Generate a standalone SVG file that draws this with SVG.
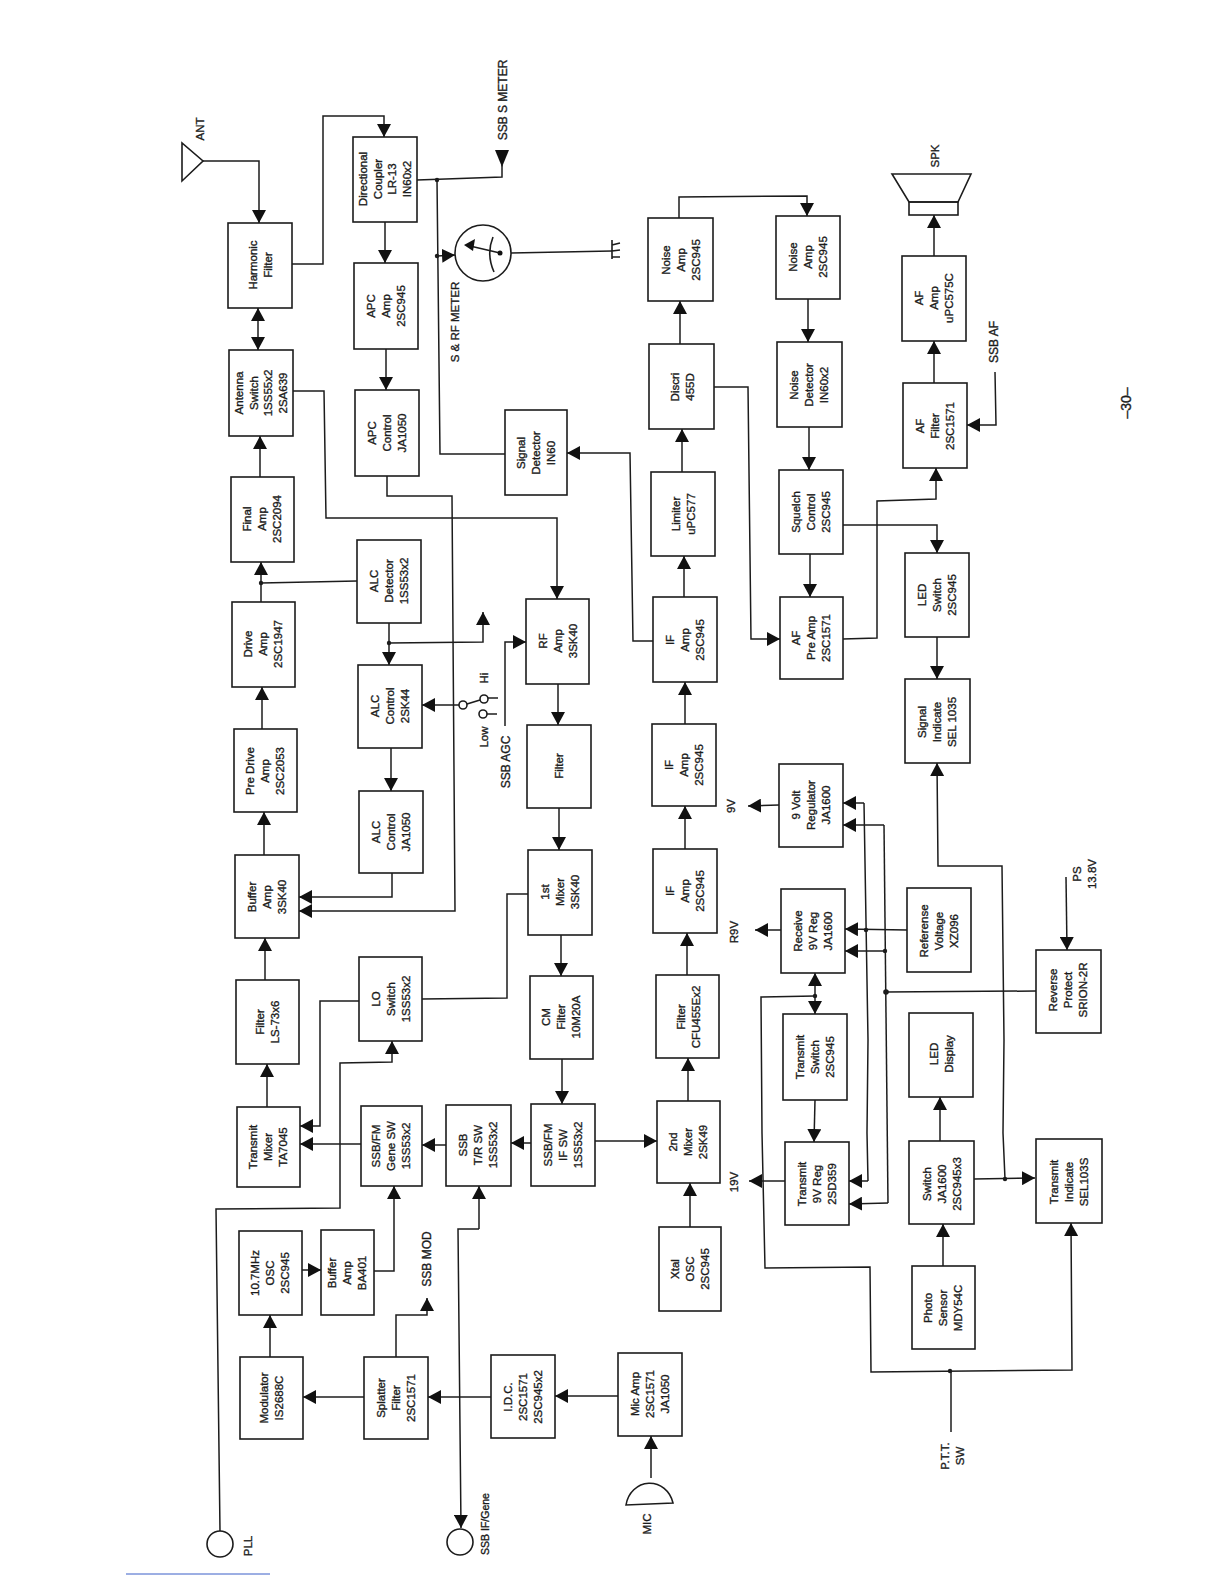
<svg xmlns="http://www.w3.org/2000/svg" width="1224" height="1584" viewBox="0 0 1224 1584">
<style>
.n rect,.s{fill:none;stroke:#1c1c1c;stroke-width:1.6}
.n rect{fill:#fff}
.c polyline,.c line{fill:none;stroke:#1c1c1c;stroke-width:1.5;marker-end:url(#a)}
.c .p{marker-end:none}
.c .d{marker-start:url(#as)}
.c circle{fill:#1c1c1c;stroke:none}
text{font-family:"Liberation Sans",Arial,sans-serif;font-size:11.5px;fill:#1c1c1c;stroke:#1c1c1c;stroke-width:.35;text-anchor:middle}
.b{font-size:12px}
</style>
<defs>
<marker id="a" viewBox="0 0 13 14" refX="13" refY="7" markerWidth="13" markerHeight="14" markerUnits="userSpaceOnUse" orient="auto"><path d="M0,0L13,7L0,14Z" fill="#111"/></marker>
<marker id="as" viewBox="0 0 13 14" refX="0" refY="7" markerWidth="13" markerHeight="14" markerUnits="userSpaceOnUse" orient="auto"><path d="M13,0L0,7L13,14Z" fill="#111"/></marker>
</defs>
<rect width="1224" height="1584" fill="#fff"/>

<g id="connectors" class="c">
<polyline points="203,161 259,161 259,223"/>
<polyline points="292,264 323,264 323,116 384,116 384,137"/>
<line class="d" x1="258" y1="308" x2="258" y2="350"/>
<line x1="260" y1="477" x2="260" y2="436"/>
<line x1="261" y1="602" x2="261" y2="562"/>
<polyline class="p" points="261,583 357,581"/><circle cx="261" cy="583" r="2.2"/>
<line x1="262" y1="729" x2="262" y2="687"/>
<line x1="264" y1="855" x2="264" y2="812"/>
<line x1="265" y1="980" x2="265" y2="938"/>
<line x1="267" y1="1107" x2="267" y2="1064"/>
<polyline points="293,391 324,391 326,518 557,518 557,599"/>
<line x1="385" y1="222" x2="385" y2="263"/>
<line x1="386" y1="349" x2="386" y2="390"/>
<polyline points="387,476 387,496 452,496 455,911 299,911"/>
<polyline points="392,873 392,897 299,897"/>
<line x1="389" y1="623" x2="389" y2="665"/>
<polyline points="389,643 483,642 483,612"/><circle cx="389" cy="643" r="2.2"/>
<line x1="391" y1="748" x2="391" y2="791"/>
<line x1="459" y1="705" x2="422" y2="705"/>
<line class="p" x1="467" y1="704" x2="480" y2="700"/>
<line class="p" x1="488" y1="698" x2="498" y2="698"/>
<line class="p" x1="487" y1="714" x2="497" y2="714"/>
<polyline points="505,726 505,642 526,642"/>
<line x1="558" y1="684" x2="558" y2="725"/>
<line x1="559" y1="808" x2="559" y2="850"/>
<line x1="561" y1="935" x2="561" y2="976"/>
<line x1="562" y1="1059" x2="562" y2="1104"/>
<polyline class="p" points="422,999 507,998 507,894 528,894"/>
<polyline points="359,1001 320,1001 320,1126 300,1126"/>
<polyline points="220,1531 216,1209 340,1208 340,1063 392,1062 392,1041"/>
<line x1="361" y1="1144" x2="300" y2="1144"/>
<line x1="446" y1="1145" x2="422" y2="1145"/>
<line x1="531" y1="1143" x2="511" y2="1143"/>
<line x1="595" y1="1141" x2="657" y2="1141"/>
<line x1="688" y1="1101" x2="688" y2="1058"/>
<line x1="687" y1="975" x2="687" y2="933"/>
<line x1="685" y1="849" x2="685" y2="806"/>
<line x1="685" y1="724" x2="685" y2="682"/>
<line x1="684" y1="597" x2="684" y2="556"/>
<line x1="682" y1="472" x2="682" y2="429"/>
<line x1="680" y1="344" x2="680" y2="301"/>
<line x1="690" y1="1227" x2="690" y2="1183"/>
<polyline points="653,641 633,641 630,453 567,453"/>
<polyline points="714,387 748,387 751,639 780,639"/>
<polyline points="679,218 679,197 807,196 807,216"/>
<line x1="808" y1="299" x2="808" y2="342"/>
<line x1="809" y1="427" x2="809" y2="470"/>
<line x1="810" y1="554" x2="810" y2="597"/>
<polyline points="843,525 937,525 937,553"/>
<polyline points="843,639 877,638 877,501 936,499 936,468"/>
<line x1="934" y1="383" x2="934" y2="341"/>
<line x1="934" y1="256" x2="934" y2="215"/>
<polyline points="995,372 996,425 967,425"/>
<line x1="937" y1="637" x2="937" y2="679"/>
<polyline class="p" points="1036,991 886,992"/><circle cx="886" cy="992" r="2.8"/>
<line x1="884" y1="825" x2="843" y2="825"/>
<polyline class="p" points="884,825 888,1203"/>
<line x1="888" y1="1203" x2="849" y2="1204"/>
<line x1="885" y1="951" x2="845" y2="951"/><circle cx="885" cy="951" r="2.2"/>
<line x1="907" y1="930" x2="845" y2="929"/><circle cx="866" cy="930" r="2.2"/>
<line x1="864" y1="803" x2="843" y2="803"/>
<polyline class="p" points="864,803 868,1040 867,1133 868,1181"/>
<line x1="868" y1="1181" x2="849" y2="1181"/>
<line x1="779" y1="805" x2="748" y2="806"/>
<line x1="781" y1="930" x2="755" y2="930"/>
<line x1="785" y1="1181" x2="749" y2="1181"/>
<line class="d" x1="815" y1="973" x2="815" y2="1014"/>
<circle cx="815" cy="996" r="2.2"/>
<polyline points="815,996 761,997 762,1133 765,1268 870,1267 871,1372 1072,1370 1071,1223"/>
<circle cx="950" cy="1371" r="2.2"/>
<line class="p" x1="951" y1="1371" x2="951" y2="1432"/>
<line x1="815" y1="1100" x2="814" y2="1142"/>
<line x1="940" y1="1141" x2="940" y2="1097"/>
<line x1="943" y1="1266" x2="943" y2="1224"/>
<line x1="974" y1="1179" x2="1035" y2="1178"/><circle cx="1005" cy="1179" r="2.2"/>
<polyline points="1005,1179 1003,1133 1004,1040 1002,866 938,866 937,763"/>
<line x1="1066" y1="877" x2="1067" y2="950"/>
<polyline class="p" points="511,253 612,251"/>
<polyline class="p" points="417,180 502,177 502,165"/><circle cx="437" cy="180" r="2.2"/>
<polyline class="p" points="437,180 440,454 505,454"/>
<line x1="437" y1="256" x2="455" y2="255"/><circle cx="437" cy="256" r="2.2"/>
<polyline points="479,1229 458,1229 461,1528"/>
<polyline points="479,1229 479,1186"/>
<line x1="302" y1="1270" x2="321" y2="1270"/>
<polyline points="374,1271 394,1271 394,1186"/>
<line x1="270" y1="1357" x2="270" y2="1315"/>
<line x1="364" y1="1397" x2="303" y2="1397"/>
<line x1="491" y1="1397" x2="428" y2="1397"/>
<line x1="618" y1="1396" x2="555" y2="1396"/>
<line x1="651" y1="1478" x2="651" y2="1436"/>
<polyline points="396,1357 396,1315 427,1315 427,1298"/>
</g>

<g id="ANT"><path class="s" d="M182,143L182,181L203,161Z"/><text transform="translate(200,129) rotate(-90)" y="4">ANT</text></g>
<g id="ssb-s-meter"><path d="M495,150L509,150L502,167Z" fill="#111"/><text class="b" transform="translate(503,100) rotate(-90)" y="4">SSB S METER</text></g>
<g id="meter"><circle class="s" cx="483" cy="253" r="28" fill="#fff"/><path class="s" d="M493,237Q486,254 494,272"/><line class="s" x1="500" y1="253" x2="470" y2="246"/><path d="M464,245L475,239L473,251Z" fill="#111"/><circle cx="500" cy="253" r="2.5" fill="#111"/><text transform="translate(455,322) rotate(-90)" y="4">S &amp; RF METER</text></g>
<g id="ground"><path class="s" d="M612,240L612,259M612,245L620,243M612,251L620,250M612,257L620,257"/></g>
<g id="SPK"><path class="s" d="M892,174L971,174L958,202L909,202Z"/><rect class="s" x="909" y="202" width="49" height="13"/><text transform="translate(935,156) rotate(-90)" y="4">SPK</text></g>
<g id="MIC"><path class="s" d="M626,1505A24,26 0 0 1 673,1503Z"/><text transform="translate(647,1524) rotate(-90)" y="4">MIC</text></g>
<g id="PLL"><circle class="s" cx="220" cy="1544" r="13"/><text transform="translate(248,1546) rotate(-90)" y="4">PLL</text></g>
<g id="SSB-IF-Gene"><circle class="s" cx="460" cy="1542" r="13"/><text transform="translate(485,1524) rotate(-90)" y="4" style="font-size:10.5px">SSB IF/Gene</text></g>
<g id="labels">
<text transform="translate(484,678) rotate(-90)" y="4">Hi</text>
<text transform="translate(484,737) rotate(-90)" y="4">Low</text>
<text class="b" transform="translate(506,762) rotate(-90)" y="4">SSB AGC</text>
<text class="b" transform="translate(994,342) rotate(-90)" y="4">SSB AF</text>
<text class="b" transform="translate(427,1259) rotate(-90)" y="4">SSB MOD</text>
<text transform="translate(731,806) rotate(-90)" y="4">9V</text>
<text transform="translate(734,932) rotate(-90)" y="4">R9V</text>
<text transform="translate(734,1182) rotate(-90)" y="4">19V</text>
<text transform="translate(952,1456) rotate(-90)"><tspan x="0" y="-3">P.T.T.</tspan><tspan x="0" y="12">SW</tspan></text>
<text transform="translate(1084,874) rotate(-90)"><tspan x="0" y="-3">PS</tspan><tspan x="0" y="12">13.8V</tspan></text>
<circle class="s" cx="463" cy="705" r="4"/><circle class="s" cx="484" cy="699" r="4"/><circle class="s" cx="483" cy="714" r="4"/>
<text transform="translate(1126,403) rotate(-90)" y="5" style="font-size:14px">–30–</text>
<line x1="126" y1="1574" x2="270" y2="1574" stroke="#3a5fc8" stroke-width="1"/>
</g>

<g id="harmonic-filter" class="n"><rect x="228" y="223" width="64" height="85"/><text transform="translate(260,265) rotate(-90)"><tspan x="0" y="-3.5">Harmonic</tspan><tspan x="0" y="11.5">Filter</tspan></text></g>
<g id="antenna-switch" class="n"><rect x="229" y="350" width="64" height="86"/><text transform="translate(261,393) rotate(-90)"><tspan x="0" y="-18">Antenna</tspan><tspan x="0" y="-3.5">Switch</tspan><tspan x="0" y="11">1SS55x2</tspan><tspan x="0" y="25.5">2SA639</tspan></text></g>
<g id="final-amp" class="n"><rect x="231" y="477" width="63" height="85"/><text transform="translate(262,519) rotate(-90)"><tspan x="0" y="-11">Final</tspan><tspan x="0" y="4">Amp</tspan><tspan x="0" y="19">2SC2094</tspan></text></g>
<g id="drive-amp" class="n"><rect x="232" y="602" width="63" height="85"/><text transform="translate(263,644) rotate(-90)"><tspan x="0" y="-11">Drive</tspan><tspan x="0" y="4">Amp</tspan><tspan x="0" y="19">2SC1947</tspan></text></g>
<g id="pre-drive-amp" class="n"><rect x="234" y="729" width="63" height="83"/><text transform="translate(265,771) rotate(-90)"><tspan x="0" y="-11">Pre Drive</tspan><tspan x="0" y="4">Amp</tspan><tspan x="0" y="19">2SC2053</tspan></text></g>
<g id="buffer-amp" class="n"><rect x="235" y="855" width="64" height="83"/><text transform="translate(267,897) rotate(-90)"><tspan x="0" y="-11">Buffer</tspan><tspan x="0" y="4">Amp</tspan><tspan x="0" y="19">3SK40</tspan></text></g>
<g id="filter-ls" class="n"><rect x="236" y="980" width="63" height="84"/><text transform="translate(267,1022) rotate(-90)"><tspan x="0" y="-3.5">Filter</tspan><tspan x="0" y="11.5">LS-73x6</tspan></text></g>
<g id="transmit-mixer" class="n"><rect x="237" y="1107" width="63" height="80"/><text transform="translate(268,1147) rotate(-90)"><tspan x="0" y="-11">Transmit</tspan><tspan x="0" y="4">Mixer</tspan><tspan x="0" y="19">TA7045</tspan></text></g>
<g id="osc-107" class="n"><rect x="239" y="1231" width="63" height="84"/><text transform="translate(270,1273) rotate(-90)"><tspan x="0" y="-11">10.7MHz</tspan><tspan x="0" y="4">OSC</tspan><tspan x="0" y="19">2SC945</tspan></text></g>
<g id="modulator" class="n"><rect x="240" y="1357" width="63" height="82"/><text transform="translate(271,1398) rotate(-90)"><tspan x="0" y="-3.5">Modulator</tspan><tspan x="0" y="11.5">IS2688C</tspan></text></g>

<g id="directional-coupler" class="n"><rect x="353" y="137" width="64" height="85"/><text transform="translate(385,179) rotate(-90)"><tspan x="0" y="-18">Directional</tspan><tspan x="0" y="-3.5">Coupler</tspan><tspan x="0" y="11">LR-13</tspan><tspan x="0" y="25.5">IN60x2</tspan></text></g>
<g id="apc-amp" class="n"><rect x="354" y="263" width="64" height="86"/><text transform="translate(386,306) rotate(-90)"><tspan x="0" y="-11">APC</tspan><tspan x="0" y="4">Amp</tspan><tspan x="0" y="19">2SC945</tspan></text></g>
<g id="apc-control" class="n"><rect x="355" y="390" width="64" height="86"/><text transform="translate(387,433) rotate(-90)"><tspan x="0" y="-11">APC</tspan><tspan x="0" y="4">Control</tspan><tspan x="0" y="19">JA1050</tspan></text></g>
<g id="alc-detector" class="n"><rect x="357" y="540" width="64" height="83"/><text transform="translate(389,581) rotate(-90)"><tspan x="0" y="-11">ALC</tspan><tspan x="0" y="4">Detector</tspan><tspan x="0" y="19">1SS53x2</tspan></text></g>
<g id="alc-control-2sk44" class="n"><rect x="358" y="665" width="64" height="83"/><text transform="translate(390,706) rotate(-90)"><tspan x="0" y="-11">ALC</tspan><tspan x="0" y="4">Control</tspan><tspan x="0" y="19">2SK44</tspan></text></g>
<g id="alc-control-ja1050" class="n"><rect x="359" y="791" width="64" height="82"/><text transform="translate(391,832) rotate(-90)"><tspan x="0" y="-11">ALC</tspan><tspan x="0" y="4">Control</tspan><tspan x="0" y="19">JA1050</tspan></text></g>
<g id="lo-switch" class="n"><rect x="359" y="957" width="63" height="84"/><text transform="translate(391,999) rotate(-90)"><tspan x="0" y="-11">LO</tspan><tspan x="0" y="4">Switch</tspan><tspan x="0" y="19">1SS53x2</tspan></text></g>
<g id="ssb-fm-gene-sw" class="n"><rect x="361" y="1106" width="61" height="80"/><text transform="translate(391,1146) rotate(-90)"><tspan x="0" y="-11">SSB/FM</tspan><tspan x="0" y="4">Gene SW</tspan><tspan x="0" y="19">1SS53x2</tspan></text></g>
<g id="buffer-amp-ba401" class="n"><rect x="321" y="1230" width="53" height="85"/><text transform="translate(347,1273) rotate(-90)"><tspan x="0" y="-11">Buffer</tspan><tspan x="0" y="4">Amp</tspan><tspan x="0" y="19">BA401</tspan></text></g>
<g id="splatter-filter" class="n"><rect x="364" y="1357" width="64" height="82"/><text transform="translate(396,1398) rotate(-90)"><tspan x="0" y="-11">Splatter</tspan><tspan x="0" y="4">Filter</tspan><tspan x="0" y="19">2SC1571</tspan></text></g>

<g id="ssb-tr-sw" class="n"><rect x="446" y="1105" width="65" height="81"/><text transform="translate(478,1145) rotate(-90)"><tspan x="0" y="-11">SSB</tspan><tspan x="0" y="4">T/R SW</tspan><tspan x="0" y="19">1SS53x2</tspan></text></g>
<g id="idc" class="n"><rect x="491" y="1355" width="64" height="83"/><text transform="translate(523,1397) rotate(-90)"><tspan x="0" y="-11">I.D.C.</tspan><tspan x="0" y="4">2SC1571</tspan><tspan x="0" y="19">2SC945x2</tspan></text></g>
<g id="signal-detector" class="n"><rect x="505" y="410" width="62" height="85"/><text transform="translate(536,453) rotate(-90)"><tspan x="0" y="-11">Signal</tspan><tspan x="0" y="4">Detector</tspan><tspan x="0" y="19">IN60</tspan></text></g>

<g id="rf-amp" class="n"><rect x="526" y="599" width="63" height="85"/><text transform="translate(558,641) rotate(-90)"><tspan x="0" y="-11">RF</tspan><tspan x="0" y="4">Amp</tspan><tspan x="0" y="19">3SK40</tspan></text></g>
<g id="filter" class="n"><rect x="527" y="725" width="64" height="83"/><text transform="translate(559,766) rotate(-90)" y="4">Filter</text></g>
<g id="first-mixer" class="n"><rect x="528" y="850" width="64" height="85"/><text transform="translate(560,892) rotate(-90)"><tspan x="0" y="-11">1st</tspan><tspan x="0" y="4">Mixer</tspan><tspan x="0" y="19">3SK40</tspan></text></g>
<g id="cm-filter" class="n"><rect x="530" y="976" width="63" height="83"/><text transform="translate(561,1017) rotate(-90)"><tspan x="0" y="-11">CM</tspan><tspan x="0" y="4">Filter</tspan><tspan x="0" y="19">10M20A</tspan></text></g>
<g id="ssb-fm-if-sw" class="n"><rect x="531" y="1104" width="64" height="82"/><text transform="translate(563,1145) rotate(-90)"><tspan x="0" y="-11">SSB/FM</tspan><tspan x="0" y="4">IF SW</tspan><tspan x="0" y="19">1SS53x2</tspan></text></g>
<g id="mic-amp" class="n"><rect x="618" y="1353" width="64" height="83"/><text transform="translate(650,1394) rotate(-90)"><tspan x="0" y="-11">Mic Amp</tspan><tspan x="0" y="4">2SC1571</tspan><tspan x="0" y="19">JA1050</tspan></text></g>

<g id="noise-amp-1" class="n"><rect x="648" y="218" width="65" height="83"/><text transform="translate(681,260) rotate(-90)"><tspan x="0" y="-11">Noise</tspan><tspan x="0" y="4">Amp</tspan><tspan x="0" y="19">2SC945</tspan></text></g>
<g id="discri" class="n"><rect x="649" y="344" width="65" height="85"/><text transform="translate(682,387) rotate(-90)"><tspan x="0" y="-3.5">Discri</tspan><tspan x="0" y="11.5">455D</tspan></text></g>
<g id="limiter" class="n"><rect x="651" y="472" width="64" height="84"/><text transform="translate(683,514) rotate(-90)"><tspan x="0" y="-3.5">Limiter</tspan><tspan x="0" y="11.5">uPC577</tspan></text></g>
<g id="if-amp-1" class="n"><rect x="653" y="597" width="64" height="85"/><text transform="translate(685,640) rotate(-90)"><tspan x="0" y="-11">IF</tspan><tspan x="0" y="4">Amp</tspan><tspan x="0" y="19">2SC945</tspan></text></g>
<g id="if-amp-2" class="n"><rect x="652" y="724" width="64" height="82"/><text transform="translate(684,765) rotate(-90)"><tspan x="0" y="-11">IF</tspan><tspan x="0" y="4">Amp</tspan><tspan x="0" y="19">2SC945</tspan></text></g>
<g id="if-amp-3" class="n"><rect x="653" y="849" width="64" height="84"/><text transform="translate(685,891) rotate(-90)"><tspan x="0" y="-11">IF</tspan><tspan x="0" y="4">Amp</tspan><tspan x="0" y="19">2SC945</tspan></text></g>
<g id="filter-cfu" class="n"><rect x="656" y="975" width="63" height="83"/><text transform="translate(688,1017) rotate(-90)"><tspan x="0" y="-3.5">Filter</tspan><tspan x="0" y="11.5">CFU455Ex2</tspan></text></g>
<g id="second-mixer" class="n"><rect x="657" y="1101" width="63" height="82"/><text transform="translate(688,1142) rotate(-90)"><tspan x="0" y="-11">2nd</tspan><tspan x="0" y="4">Mixer</tspan><tspan x="0" y="19">2SK49</tspan></text></g>
<g id="xtal-osc" class="n"><rect x="659" y="1227" width="62" height="84"/><text transform="translate(690,1269) rotate(-90)"><tspan x="0" y="-11">Xtal</tspan><tspan x="0" y="4">OSC</tspan><tspan x="0" y="19">2SC945</tspan></text></g>

<g id="noise-amp-2" class="n"><rect x="776" y="216" width="64" height="83"/><text transform="translate(808,257) rotate(-90)"><tspan x="0" y="-11">Noise</tspan><tspan x="0" y="4">Amp</tspan><tspan x="0" y="19">2SC945</tspan></text></g>
<g id="noise-detector" class="n"><rect x="777" y="342" width="65" height="85"/><text transform="translate(809,385) rotate(-90)"><tspan x="0" y="-11">Noise</tspan><tspan x="0" y="4">Detector</tspan><tspan x="0" y="19">IN60x2</tspan></text></g>
<g id="squelch-control" class="n"><rect x="779" y="470" width="64" height="84"/><text transform="translate(811,512) rotate(-90)"><tspan x="0" y="-11">Squelch</tspan><tspan x="0" y="4">Control</tspan><tspan x="0" y="19">2SC945</tspan></text></g>
<g id="af-pre-amp" class="n"><rect x="780" y="597" width="63" height="82"/><text transform="translate(811,638) rotate(-90)"><tspan x="0" y="-11">AF</tspan><tspan x="0" y="4">Pre Amp</tspan><tspan x="0" y="19">2SC1571</tspan></text></g>
<g id="nine-volt-regulator" class="n"><rect x="779" y="764" width="64" height="83"/><text transform="translate(811,805) rotate(-90)"><tspan x="0" y="-11">9 Volt</tspan><tspan x="0" y="4">Regulator</tspan><tspan x="0" y="19">JA1600</tspan></text></g>
<g id="receive-9v-reg" class="n"><rect x="781" y="889" width="64" height="84"/><text transform="translate(813,931) rotate(-90)"><tspan x="0" y="-11">Receive</tspan><tspan x="0" y="4">9V Reg</tspan><tspan x="0" y="19">JA1600</tspan></text></g>
<g id="transmit-switch" class="n"><rect x="783" y="1014" width="64" height="86"/><text transform="translate(815,1057) rotate(-90)"><tspan x="0" y="-11">Transmit</tspan><tspan x="0" y="4">Switch</tspan><tspan x="0" y="19">2SC945</tspan></text></g>
<g id="transmit-9v-reg" class="n"><rect x="785" y="1142" width="64" height="83"/><text transform="translate(817,1184) rotate(-90)"><tspan x="0" y="-11">Transmit</tspan><tspan x="0" y="4">9V Reg</tspan><tspan x="0" y="19">2SD359</tspan></text></g>

<g id="af-amp" class="n"><rect x="902" y="256" width="64" height="85"/><text transform="translate(934,298) rotate(-90)"><tspan x="0" y="-11">AF</tspan><tspan x="0" y="4">Amp</tspan><tspan x="0" y="19">uPC575C</tspan></text></g>
<g id="af-filter" class="n"><rect x="903" y="383" width="64" height="85"/><text transform="translate(935,426) rotate(-90)"><tspan x="0" y="-11">AF</tspan><tspan x="0" y="4">Filter</tspan><tspan x="0" y="19">2SC1571</tspan></text></g>
<g id="led-switch" class="n"><rect x="905" y="553" width="64" height="84"/><text transform="translate(937,595) rotate(-90)"><tspan x="0" y="-11">LED</tspan><tspan x="0" y="4">Switch</tspan><tspan x="0" y="19">2SC945</tspan></text></g>
<g id="signal-indicate" class="n"><rect x="905" y="679" width="65" height="84"/><text transform="translate(937,722) rotate(-90)"><tspan x="0" y="-11">Signal</tspan><tspan x="0" y="4">Indicate</tspan><tspan x="0" y="19">SEL 1035</tspan></text></g>
<g id="referense-voltage" class="n"><rect x="907" y="888" width="64" height="84"/><text transform="translate(939,931) rotate(-90)"><tspan x="0" y="-11">Referense</tspan><tspan x="0" y="4">Voltage</tspan><tspan x="0" y="19">XZ096</tspan></text></g>
<g id="led-display" class="n"><rect x="909" y="1013" width="64" height="84"/><text transform="translate(941,1054) rotate(-90)"><tspan x="0" y="-3.5">LED</tspan><tspan x="0" y="11.5">Display</tspan></text></g>
<g id="switch" class="n"><rect x="909" y="1141" width="65" height="83"/><text transform="translate(942,1184) rotate(-90)"><tspan x="0" y="-11">Switch</tspan><tspan x="0" y="4">JA1600</tspan><tspan x="0" y="19">2SC945x3</tspan></text></g>
<g id="photo-sensor" class="n"><rect x="912" y="1266" width="63" height="83"/><text transform="translate(943,1308) rotate(-90)"><tspan x="0" y="-11">Photo</tspan><tspan x="0" y="4">Sensor</tspan><tspan x="0" y="19">MDY54C</tspan></text></g>
<g id="reverse-protect" class="n"><rect x="1036" y="950" width="65" height="83"/><text transform="translate(1068,990) rotate(-90)"><tspan x="0" y="-11">Reverse</tspan><tspan x="0" y="4">Protect</tspan><tspan x="0" y="19">SRION-2R</tspan></text></g>
<g id="transmit-indicate" class="n"><rect x="1036" y="1139" width="66" height="84"/><text transform="translate(1069,1182) rotate(-90)"><tspan x="0" y="-11">Transmit</tspan><tspan x="0" y="4">Indicate</tspan><tspan x="0" y="19">SEL103S</tspan></text></g>
</svg>
